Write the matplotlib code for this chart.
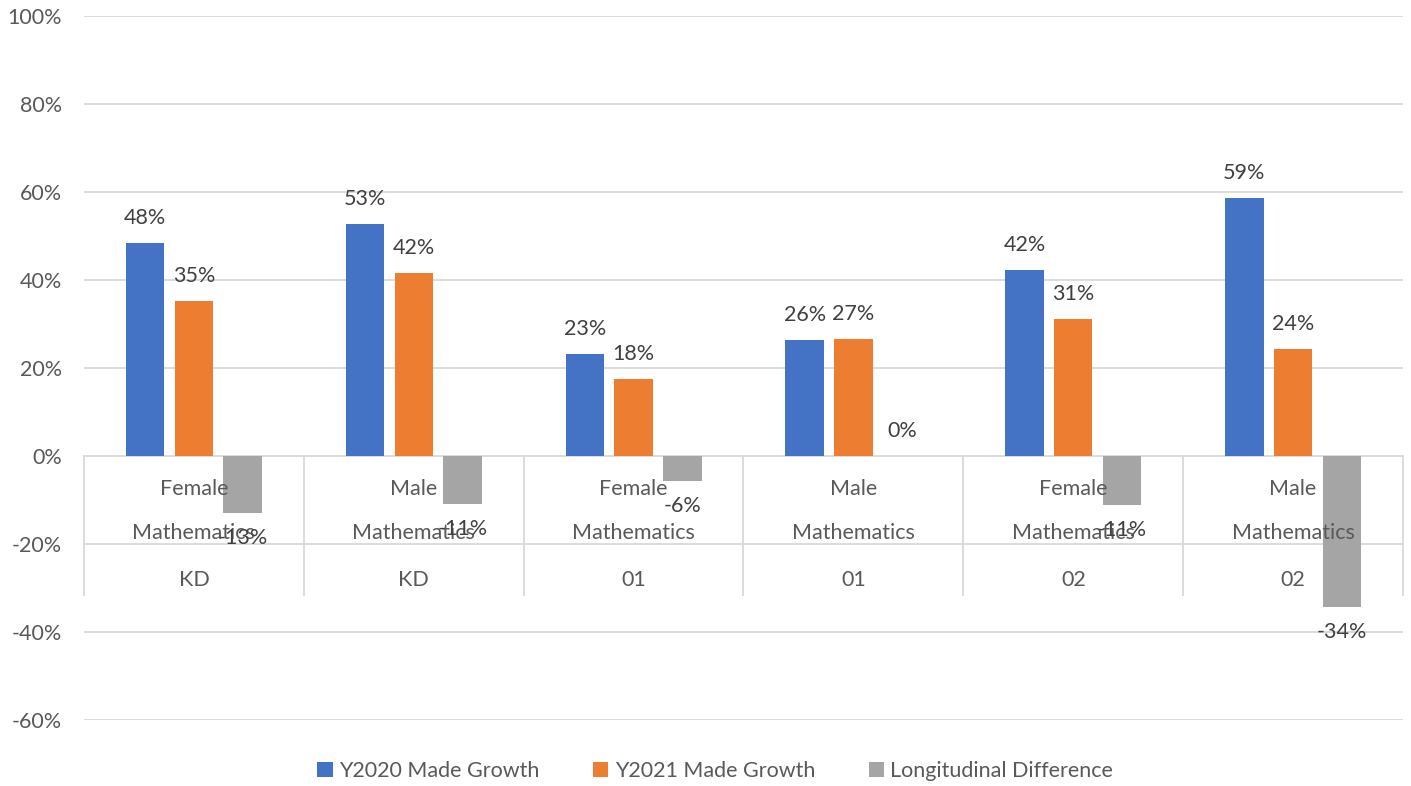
import matplotlib.pyplot as plt
from matplotlib.ticker import FuncFormatter

# values, in percent
gender = ["Female", "Male", "Female", "Male", "Female", "Male"]
subject = ["Mathematics"] * 6
grade = ["KD", "KD", "01", "01", "02", "02"]

y2020 = [48.3, 52.7, 23.2, 26.3, 42.2, 58.6]
y2021 = [35.2, 41.7, 17.6, 26.6, 31.1, 24.3]
diff = [-13.0, -11.0, -5.6, 0.0, -11.1, -34.3]

series = [
    ("Y2020 Made Growth", y2020, "#4472C4"),
    ("Y2021 Made Growth", y2021, "#ED7D31"),
    ("Longitudinal Difference", diff, "#A5A5A5"),
]

plt.rcParams["font.family"] = ["Lato", "DejaVu Sans"]

fig = plt.figure(figsize=(14.11, 7.86), dpi=100)
ax = fig.add_axes([84 / 1411, 1 - 720 / 786, (1403 - 84) / 1411, 704 / 786])

n = len(grade)
xs = list(range(n))
width = 0.175
step = 0.2216
grid_col = "#d9d9d9"

# multi-level category labels (drawn over the bars, as in the source)
for i in xs:
    ax.text(i, -7.5, gender[i], ha="center", va="center", fontsize=15.5, color="#595959", zorder=5)
    ax.text(i, -17.5, subject[i], ha="center", va="center", fontsize=15.5, color="#595959", zorder=5)
    ax.text(i, -28.2, grade[i], ha="center", va="center", fontsize=15.5, color="#595959", zorder=5)
for k in range(n + 1):
    ax.plot([k - 0.5, k - 0.5], [0, -31.6], color=grid_col, lw=1.3, zorder=1, clip_on=False)

for j, (name, vals, col) in enumerate(series):
    pos = [x + (j - 1) * step for x in xs]
    bars = ax.bar(pos, vals, width, color=col, label=name, zorder=3)
    for b, v in zip(bars, vals):
        off = 18 if v >= 0 else -18
        y = b.get_height() if v >= 0 else v
        ax.annotate(f"{v:.0f}%", (b.get_x() + b.get_width() / 2, y),
                    xytext=(0, off), textcoords="offset points",
                    ha="center", va="center", fontsize=15.5, color="#404040", zorder=6)

ax.set_xlim(-0.5, n - 0.5)
ax.set_ylim(-60, 100)
ax.set_yticks(range(-60, 101, 20))
ax.yaxis.set_major_formatter(FuncFormatter(lambda v, p: f"{v:.0f}%"))
ax.set_xticks([])
ax.tick_params(axis="y", length=0, pad=16, labelsize=15.5, labelcolor="#595959")
ax.grid(axis="y", color=grid_col, lw=1.3, zorder=0)
ax.set_axisbelow(True)
for s in ax.spines.values():
    s.set_visible(False)

fig.legend(loc="center", bbox_to_anchor=(0.507, 0.019), ncol=3, frameon=False,
           fontsize=15.5, handlelength=0.7, handleheight=0.7, handletextpad=0.3,
           columnspacing=2.5, labelcolor="#595959")

fig.savefig("out.png", dpi=100)
